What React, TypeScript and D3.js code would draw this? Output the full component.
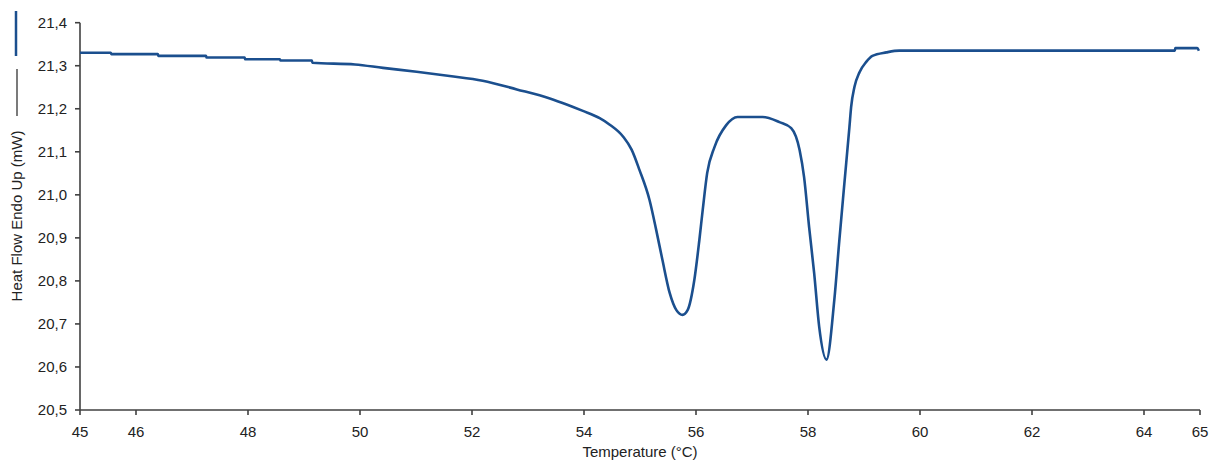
import React from "react";
import * as d3 from "d3";

const temperature = [
  45.0, 45.55, 45.56, 46.39, 46.4, 47.25, 47.26, 47.94, 47.95, 48.57, 48.58, 49.14, 49.15,
  49.91, 50.41, 51.01, 51.6, 52.19, 52.8, 53.39, 53.69, 53.98, 54.28, 54.46, 54.7, 54.85,
  54.99, 55.17, 55.29, 55.4, 55.53, 55.65, 55.76, 55.85, 55.97, 56.06, 56.12, 56.2, 56.33,
  56.54, 56.74, 57.19, 57.49, 57.7, 57.85, 57.93, 58.02, 58.11, 58.2, 58.33, 58.47,
  58.56, 58.65, 58.74, 58.77, 58.83, 58.92, 59.04, 59.15, 59.4, 59.63, 64.55, 64.56, 64.95,
  64.98,
];

const heatFlow = [
  21.33, 21.33, 21.327, 21.327, 21.323, 21.323, 21.319, 21.319, 21.315, 21.315, 21.312,
  21.312, 21.307, 21.303, 21.295, 21.286, 21.276, 21.265, 21.245, 21.224, 21.21, 21.195,
  21.178, 21.163, 21.135, 21.105, 21.058, 20.988, 20.918, 20.849, 20.772, 20.732, 20.721,
  20.732, 20.802, 20.895, 20.965, 21.051, 21.111, 21.162, 21.181, 21.181, 21.169, 21.155,
  21.104, 21.041, 20.925, 20.818, 20.693, 20.617, 20.756, 20.895, 21.027, 21.158,
  21.204, 21.251, 21.285, 21.309, 21.323, 21.331, 21.335, 21.335, 21.341, 21.341, 21.335,
];

const xTicks = [45, 46, 48, 50, 52, 54, 56, 58, 60, 62, 64, 65];
const yTicks = [20.5, 20.6, 20.7, 20.8, 20.9, 21.0, 21.1, 21.2, 21.3, 21.4];

const xLabel = "Temperature (°C)";
const yLabel = "Heat Flow Endo Up (mW)";

export default function App() {
  const W = 1218;
  const H = 460;
  const left = 80;
  const right = 1200;
  const top = 22.7;
  const bottom = 410;
  const font = "Arial, 'Liberation Sans', sans-serif";
  const axisColor = "#404040";
  const lineColor = "#1b4f8e";

  const x = d3.scaleLinear().domain([45, 65]).range([left, right]);
  const y = d3.scaleLinear().domain([20.5, 21.4]).range([bottom, top]);

  const pts = temperature.map((t, i) => [t, heatFlow[i]] as [number, number]);
  const line = d3
    .line<[number, number]>()
    .x((d) => x(d[0]))
    .y((d) => y(d[1]))
    .curve(d3.curveMonotoneX);

  return (
    <svg
      width={W}
      height={H}
      style={{ position: "absolute", left: 0, top: 0, background: "#fff" }}
      fontFamily={font}
    >
      {/* series marker at left */}
      <line x1={16} x2={16} y1={11} y2={56} stroke={lineColor} strokeWidth={2.5} />
      <line x1={17} x2={17} y1={69} y2={116} stroke="#222" strokeWidth={1.2} />
      <text
        transform={`translate(22,216) rotate(-90)`}
        textAnchor="middle"
        fontSize={15}
        fill="#222"
      >
        {yLabel}
      </text>

      {/* y axis */}
      <line x1={left} x2={left} y1={y(21.4)} y2={y(20.5)} stroke={axisColor} strokeWidth={1.6} />
      {yTicks.map((v) => (
        <g key={v}>
          <line x1={left - 5} x2={left} y1={y(v)} y2={y(v)} stroke={axisColor} strokeWidth={1.6} />
          <text
            x={67}
            y={y(v)}
            dy="0.35em"
            textAnchor="end"
            fontSize={15}
            fill="#222"
          >
            {d3.format(".1f")(v).replace(".", ",")}
          </text>
        </g>
      ))}

      {/* x axis */}
      <line x1={left} x2={right} y1={bottom} y2={bottom} stroke={axisColor} strokeWidth={1.6} />
      {xTicks.map((t) => (
        <g key={t}>
          <line x1={x(t)} x2={x(t)} y1={bottom} y2={bottom + 5} stroke={axisColor} strokeWidth={1.6} />
          <text x={x(t)} y={437} textAnchor="middle" fontSize={15} fill="#222">
            {t}
          </text>
        </g>
      ))}
      <text x={640} y={457} textAnchor="middle" fontSize={15} fill="#222">
        {xLabel}
      </text>

      {/* curve */}
      <path d={line(pts) || ""} fill="none" stroke={lineColor} strokeWidth={2.6} strokeLinejoin="round" />
    </svg>
  );
}
